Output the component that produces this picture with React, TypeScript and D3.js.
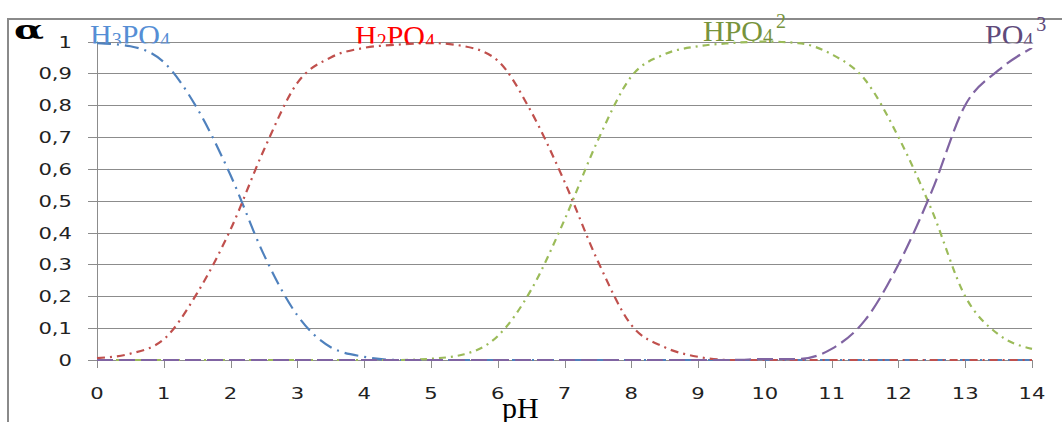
import React from "react";
import * as d3 from "d3";

const phValues = [0, 0.5, 1, 1.5, 2, 2.5, 3, 3.5, 4, 4.5, 5, 5.5, 6, 6.5, 7, 7.5, 8, 8.5, 9, 9.5, 10, 10.5, 11, 11.5, 12, 12.5, 13, 13.5, 14];

const h3po4 = [0.995, 0.985, 0.935, 0.79, 0.58, 0.33, 0.14, 0.04, 0.01, 0, 0, 0, 0, 0, 0, 0, 0, 0, 0, 0, 0, 0, 0, 0, 0, 0, 0, 0, 0];
const h2po4 = [0.006, 0.02, 0.065, 0.21, 0.41, 0.66, 0.87, 0.95, 0.98, 0.99, 0.995, 0.985, 0.94, 0.78, 0.56, 0.31, 0.11, 0.04, 0.01, 0, 0, 0, 0, 0, 0, 0, 0, 0, 0];
const hpo4 = [0, 0, 0, 0, 0, 0, 0, 0, 0, 0, 0.004, 0.018, 0.075, 0.22, 0.44, 0.69, 0.89, 0.96, 0.985, 0.995, 1.0, 0.995, 0.96, 0.88, 0.7, 0.47, 0.2, 0.08, 0.035];
const po4 = [0, 0, 0, 0, 0, 0, 0, 0, 0, 0, 0, 0, 0, 0, 0, 0, 0, 0, 0, 0, 0.003, 0.003, 0.035, 0.125, 0.3, 0.53, 0.8, 0.91, 0.98];

const xTicks = [0, 1, 2, 3, 4, 5, 6, 7, 8, 9, 10, 11, 12, 13, 14];
const yTicks = [0, 0.1, 0.2, 0.3, 0.4, 0.5, 0.6, 0.7, 0.8, 0.9, 1];
const yTickLabels = ["0", "0,1", "0,2", "0,3", "0,4", "0,5", "0,6", "0,7", "0,8", "0,9", "1"];

const seriesDefs = [
  { name: "H3PO4", values: h3po4, color: "#4F81BD", dash: "14,6,2,6" },
  { name: "H2PO4", values: h2po4, color: "#C0504D", dash: "8,5,2,5" },
  { name: "HPO4", values: hpo4, color: "#9BBB59", dash: "7,5,2,5" },
  { name: "PO4", values: po4, color: "#8064A2", dash: "16,6" },
];

const W = 1062;
const H = 422;
const x = d3.scaleLinear().domain([0, 14]).range([97, 1032]);
const y = d3.scaleLinear().domain([0, 1]).range([360, 41.5]);

const tickFont = "'DejaVu Sans', Verdana, sans-serif";
const serif = "'Liberation Serif', 'Times New Roman', serif";

export default function App() {
  const line = d3
    .line<number>()
    .x((_, i) => x(phValues[i]))
    .y((d) => y(d))
    .curve(d3.curveMonotoneX);

  return (
    <svg
      width={W}
      height={H}
      style={{ position: "absolute", left: 0, top: 0, background: "#fff" }}
    >
      <defs>
        <clipPath id="labelClip">
          <rect x={0} y={0} width={W} height={43.5} />
        </clipPath>
      </defs>
      {/* frame */}
      <line x1={8} x2={8} y1={18} y2={H} stroke="#8a8a8a" strokeWidth={2} />
      <line x1={7} x2={W} y1={19} y2={19} stroke="#8a8a8a" strokeWidth={2} />

      {/* gridlines */}
      {yTicks.map((t) => (
        <line
          key={"g" + t}
          x1={88}
          x2={x(14)}
          y1={Math.round(y(t)) + 0.5}
          y2={Math.round(y(t)) + 0.5}
          stroke="#8c8c8c"
          strokeWidth={1}
        />
      ))}
      {/* y axis line */}
      <line x1={97.5} x2={97.5} y1={y(1)} y2={y(0)} stroke="#8c8c8c" strokeWidth={1} />
      {/* x ticks */}
      {xTicks.map((t) => (
        <line
          key={"xt" + t}
          x1={Math.round(x(t)) + 0.5}
          x2={Math.round(x(t)) + 0.5}
          y1={y(0)}
          y2={y(0) + 8}
          stroke="#8c8c8c"
          strokeWidth={1}
        />
      ))}

      {/* y tick labels */}
      {yTicks.map((t, i) => (
        <text
          key={"yl" + t}
          transform={`translate(72,${y(t) + 6}) scale(1.32,1)`}
          textAnchor="end"
          fontFamily={tickFont}
          fontSize={16}
          fill="#222"
        >
          {yTickLabels[i]}
        </text>
      ))}
      {/* x tick labels */}
      {xTicks.map((t) => (
        <text
          key={"xl" + t}
          transform={`translate(${x(t)},399) scale(1.32,1)`}
          textAnchor="middle"
          fontFamily={tickFont}
          fontSize={16}
          fill="#222"
        >
          {String(t)}
        </text>
      ))}

      {/* series */}
      {seriesDefs.map((s) => (
        <path
          key={s.name}
          d={line(s.values) || ""}
          fill="none"
          stroke={s.color}
          strokeWidth={2.2}
          strokeDasharray={s.dash}
        />
      ))}

      {/* axis titles */}
      <text
        transform="translate(14,39) scale(1.5,1)"
        fontFamily="'DejaVu Serif', serif"
        fontWeight="bold"
        fontSize={26}
        fill="#000"
      >
        α
      </text>
      <text x={502} y={418} fontFamily={serif} fontSize={30} fill="#000">
        pH
      </text>

      {/* series labels */}
      <g clipPath="url(#labelClip)" fontFamily={serif}>
        <text x={90} y={45} fontSize={30} fill="#558ED5">
          H<tspan fontSize={20} dy={2}>3</tspan>
          <tspan dy={-2}>PO</tspan>
          <tspan fontSize={20} dy={2}>4</tspan>
        </text>
        <text x={355} y={46} fontSize={30} fill="#FF0000">
          H<tspan fontSize={20} dy={2}>2</tspan>
          <tspan dy={-2}>PO</tspan>
          <tspan fontSize={20} dy={2}>4</tspan>
        </text>
        <text x={703} y={41} fontSize={30} fill="#77933C">
          HPO<tspan fontSize={20} dy={2}>4</tspan>
          <tspan fontSize={20} dy={-15} dx={3}>2</tspan>
        </text>
        <text x={985} y={45} fontSize={30} fill="#604A7B">
          PO<tspan fontSize={20} dy={2}>4</tspan>
          <tspan fontSize={20} dy={-16} dx={3}>3</tspan>
        </text>
      </g>
    </svg>
  );
}
